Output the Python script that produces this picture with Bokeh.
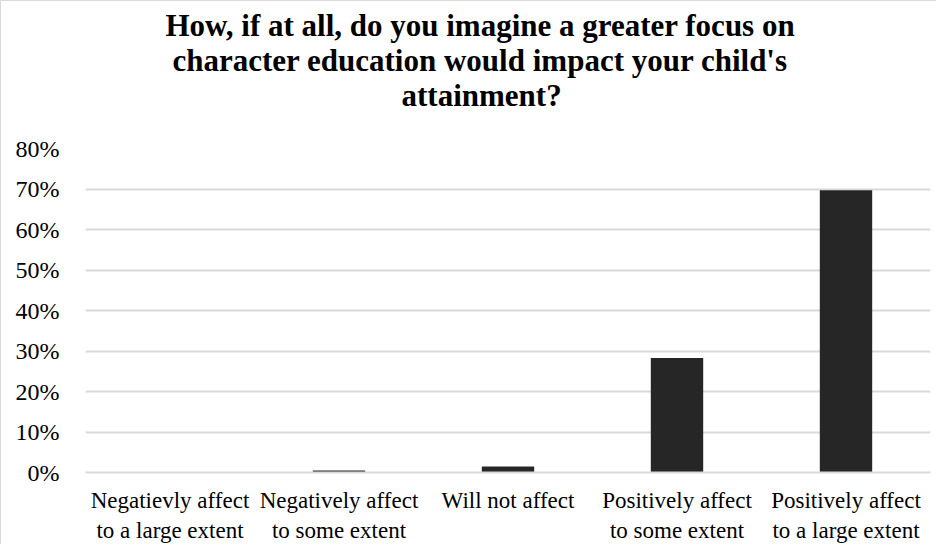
from bokeh.plotting import figure
from bokeh.models import NumeralTickFormatter, Range1d, FactorRange, FixedTicker, Title
from bokeh.embed import file_html
from bokeh.resources import INLINE

categories = [
    "Negatievly affect\nto a large extent",
    "Negatively affect\nto some extent",
    "Will not affect",
    "Positively affect\nto some extent",
    "Positively affect\nto a large extent",
]
values = [0.0, 0.005, 0.015, 0.283, 0.697]
y_ticks = [0.0, 0.1, 0.2, 0.3, 0.4, 0.5, 0.6, 0.7, 0.8]
title_lines = [
    "How, if at all, do you imagine a greater focus on",
    "character education would impact your child's",
    "attainment?",
]
# horizontal start of each title line, relative to plot-area left (pixels)
title_offsets = [80, 87, 316]

FONT = "'Liberation Serif', 'Times New Roman', serif"

p = figure(width=936, height=544, x_range=FactorRange(*categories),
           y_range=Range1d(0, 0.8), output_backend="svg", toolbar_location=None,
           min_border_left=84, min_border_right=7,
           min_border_bottom=10, min_border_top=147,
           styles={"border-left": "1px solid #d9d9d9", "border-top": "1px solid #d9d9d9"})

p.vbar(x=categories, top=values, width=0.31, fill_color="#262626", line_color=None)

# spacer between plot area and title block
p.add_layout(Title(text=" ", text_font_size="31px", standoff=0), "above")
for line, off in reversed(list(zip(title_lines, title_offsets))):
    t = Title(text=line, align="left", offset=off, text_font=FONT,
              text_font_size="31px", text_font_style="bold", text_color="#000000",
              standoff=-2)
    p.add_layout(t, "above")

p.outline_line_color = None
p.background_fill_color = "white"
p.border_fill_color = "white"

p.xgrid.grid_line_color = None
p.ygrid.grid_line_color = "#d9d9d9"
p.ygrid.grid_line_width = 2

p.yaxis.ticker = FixedTicker(ticks=y_ticks)
p.yaxis.formatter = NumeralTickFormatter(format="0%")
p.yaxis.axis_line_color = None
p.yaxis.major_tick_line_color = None
p.yaxis.minor_tick_line_color = None
p.yaxis.major_label_text_font = FONT
p.yaxis.major_label_text_font_size = "24px"
p.yaxis.major_label_text_color = "#000000"
p.yaxis.major_label_standoff = 20

p.xaxis.axis_line_color = "#d9d9d9"
p.xaxis.axis_line_width = 2
p.xaxis.major_tick_line_color = None
p.xaxis.minor_tick_line_color = None
p.xaxis.major_label_text_font = FONT
p.xaxis.major_label_text_font_size = "23px"
p.xaxis.major_label_text_color = "#000000"
p.xaxis.major_label_text_line_height = 1.2
p.xaxis.major_label_standoff = 9
p.x_range.range_padding = 0

open("out.html", "w").write(file_html(p, INLINE))
